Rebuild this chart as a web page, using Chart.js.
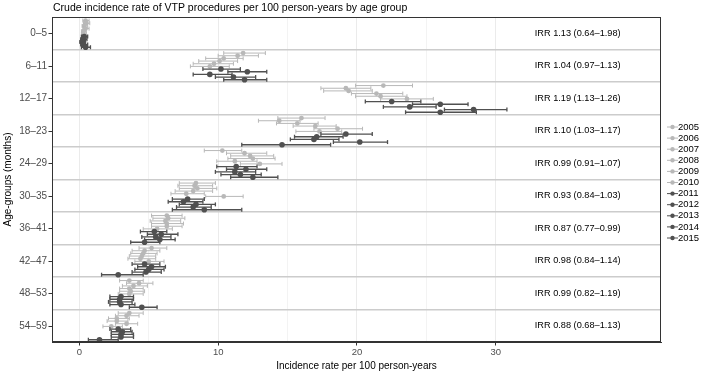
<!DOCTYPE html>
<html>
<head>
<meta charset="utf-8">
<script src="https://cdn.jsdelivr.net/npm/chart.js@4.4.1/dist/chart.umd.min.js"></script>
<style>
  html, body { margin: 0; padding: 0; background: #fff; }
  #wrap { width: 709px; height: 376px; }
</style>
</head>
<body>
<div id="wrap"><canvas id="chart" width="709" height="376"></canvas></div>
<script>
const ageGroups = ["0–5", "6–11", "12–17", "18–23", "24–29", "30–35", "36–41", "42–47", "48–53", "54–59"];
const years = ["2005", "2006", "2007", "2008", "2009", "2010", "2011", "2012", "2013", "2014", "2015"];
const xTicks = [0, 10, 20, 30];
const irrLabels = [
  "IRR 1.13 (0.64–1.98)", "IRR 1.04 (0.97–1.13)", "IRR 1.19 (1.13–1.26)", "IRR 1.10 (1.03–1.17)",
  "IRR 0.99 (0.91–1.07)", "IRR 0.93 (0.84–1.03)", "IRR 0.87 (0.77–0.99)", "IRR 0.98 (0.84–1.14)",
  "IRR 0.99 (0.82–1.19)", "IRR 0.88 (0.68–1.13)"
];

// one row per age group, one column per year (2005..2015)
const rates = [
  [0.45, 0.5, 0.35, 0.45, 0.3, 0.3, 0.35, 0.3, 0.2, 0.3, 0.45],
  [11.8, 11.4, 10.4, 10.1, 9.7, 9.4, 10.2, 12.1, 9.4, 11.1, 11.9],
  [21.9, 19.2, 19.4, 21.4, 21.7, 23.6, 22.5, 26.0, 23.8, 28.4, 26.0],
  [16.0, 14.4, 15.7, 17.0, 18.6, 17.3, 19.2, 17.1, 16.9, 20.2, 14.6],
  [10.3, 11.9, 12.3, 12.5, 11.2, 13.0, 11.3, 12.0, 11.2, 11.6, 12.5],
  [8.4, 8.3, 8.5, 8.2, 7.7, 10.4, 7.8, 7.5, 8.4, 8.2, 9.0],
  [6.3, 6.4, 6.2, 6.3, 6.3, 5.6, 5.4, 5.9, 5.5, 5.8, 4.7],
  [5.2, 4.7, 4.6, 4.5, 4.4, 5.0, 4.7, 5.2, 5.0, 4.8, 2.8],
  [3.6, 4.3, 3.9, 3.6, 3.7, 3.6, 3.0, 2.9, 2.9, 3.0, 4.5],
  [3.6, 3.4, 2.7, 2.7, 3.4, 2.3, 2.8, 3.1, 3.0, 3.0, 1.45]
];
const lowerCI = [
  [0.25, 0.3, 0.2, 0.25, 0.15, 0.15, 0.15, 0.1, 0.05, 0.1, 0.15],
  [10.4, 10.0, 9.1, 8.6, 8.2, 8.0, 8.9, 10.7, 8.2, 9.8, 10.4],
  [19.9, 17.4, 17.6, 19.6, 19.9, 21.7, 20.6, 24.0, 21.9, 26.3, 23.5],
  [14.3, 12.9, 14.2, 15.4, 16.9, 15.6, 17.4, 15.5, 15.2, 18.3, 11.7],
  [9.0, 10.6, 10.9, 10.7, 9.9, 11.6, 9.9, 10.6, 9.8, 10.2, 10.9],
  [7.2, 7.1, 7.2, 6.9, 6.6, 9.1, 6.7, 6.4, 7.2, 7.0, 6.7],
  [5.2, 5.3, 5.1, 5.2, 5.2, 4.6, 4.4, 4.9, 4.5, 4.7, 3.7],
  [4.3, 3.8, 3.7, 3.6, 3.5, 4.0, 3.8, 4.2, 4.0, 3.8, 1.6],
  [2.9, 3.4, 3.1, 2.9, 2.9, 2.8, 2.2, 2.2, 2.1, 2.2, 3.6],
  [2.8, 2.6, 2.1, 2.0, 2.6, 1.7, 2.2, 2.3, 2.3, 2.3, 0.65]
];
const upperCI = [
  [0.7, 0.75, 0.6, 0.7, 0.5, 0.5, 0.6, 0.55, 0.45, 0.6, 0.8],
  [13.4, 12.9, 11.8, 11.4, 11.1, 10.8, 11.6, 13.5, 11.0, 12.7, 13.5],
  [24.0, 21.0, 21.1, 23.3, 23.6, 25.5, 24.6, 28.0, 25.7, 30.8, 28.6],
  [17.7, 15.9, 17.2, 18.5, 20.4, 18.9, 21.1, 19.0, 18.7, 22.2, 18.1],
  [11.7, 13.5, 14.0, 14.1, 12.8, 14.6, 12.8, 13.5, 12.7, 13.1, 14.3],
  [9.8, 9.6, 9.9, 9.6, 9.0, 11.8, 9.0, 8.9, 9.8, 9.5, 11.7],
  [7.4, 7.6, 7.3, 7.5, 7.4, 6.7, 6.3, 7.1, 6.6, 6.9, 5.8],
  [6.3, 5.8, 5.6, 5.5, 5.5, 6.1, 5.8, 6.2, 6.1, 5.9, 4.6],
  [4.6, 5.3, 4.9, 4.6, 4.7, 4.6, 3.9, 3.9, 3.8, 4.0, 5.6],
  [4.6, 4.3, 3.6, 3.5, 4.2, 3.1, 3.7, 3.8, 3.9, 3.9, 2.8]
];

const LIGHT = "#b8b8b8";
const DARK = "#505050";
const FONT = "'Liberation Sans', Arial, sans-serif";

function yearColor(yi) {
  return yi < 6 ? LIGHT : DARK;
}

// vertical position of a year inside its age-group band
function rowY(g, yi) {
  return g + 0.11 + yi * 0.082;
}

function buildDatasets() {
  const out = [];
  years.forEach((year, yi) => {
    const color = yearColor(yi);
    const bars = [];
    const pts = [];
    ageGroups.forEach((_, g) => {
      const y = rowY(g, yi);
      bars.push({ x: lowerCI[g][yi], y }, { x: upperCI[g][yi], y }, { x: null, y: null });
      pts.push({ x: rates[g][yi], y });
    });
    out.push({
      type: "line",
      label: year + " CI",
      data: bars,
      borderColor: color,
      borderWidth: yi < 6 ? 1 : 1.3,
      showLine: true,
      spanGaps: false,
      pointStyle: "line",
      rotation: 90,
      pointRadius: 2,
      pointBorderColor: color,
      pointBorderWidth: yi < 6 ? 1 : 1.3,
      order: 200 - yi * 2,
    });
    out.push({
      type: "scatter",
      label: year,
      data: pts,
      pointStyle: "circle",
      pointRadius: yi < 6 ? 2.4 : 2.8,
      backgroundColor: color,
      borderColor: color,
      borderWidth: 0,
      order: 199 - yi * 2,
    });
  });
  return out;
}

const extrasPlugin = {
  id: "extras",
  afterDraw(chart) {
    const { ctx, chartArea: a, scales } = chart;
    ctx.save();

    // title
    ctx.fillStyle = "#000";
    ctx.font = "10.5px " + FONT;
    ctx.textAlign = "left";
    ctx.textBaseline = "middle";
    ctx.fillText("Crude incidence rate of VTP procedures per 100 person-years by age group", a.left + 1, 8);

    // panel frame
    ctx.strokeStyle = "#333333";
    ctx.lineWidth = 1;
    ctx.strokeRect(a.left + 0.5, a.top + 0.5, a.right - a.left - 1, a.bottom - a.top - 1);

    // y tick marks at band centres
    ageGroups.forEach((_, g) => {
      const py = Math.round(scales.y.getPixelForValue(g + 0.5)) + 0.5;
      ctx.beginPath();
      ctx.moveTo(a.left - 3.5, py);
      ctx.lineTo(a.left, py);
      ctx.stroke();
    });

    // IRR annotations
    ctx.fillStyle = "#000";
    ctx.font = "9.2px " + FONT;
    ctx.textAlign = "center";
    irrLabels.forEach((txt, g) => {
      ctx.fillText(txt, scales.x.getPixelForValue(35.9), scales.y.getPixelForValue(g + 0.5));
    });

    // legend
    ctx.font = "9.5px " + FONT;
    ctx.textAlign = "left";
    years.forEach((year, yi) => {
      const ly = 127 + yi * 11.1;
      const c = yearColor(yi);
      ctx.strokeStyle = c;
      ctx.fillStyle = c;
      ctx.lineWidth = 1;
      ctx.beginPath();
      ctx.moveTo(667, ly);
      ctx.lineTo(678, ly);
      ctx.stroke();
      ctx.beginPath();
      ctx.arc(672.5, ly, 2.2, 0, Math.PI * 2);
      ctx.fill();
      ctx.fillStyle = "#000";
      ctx.fillText(year, 678, ly);
    });

    ctx.restore();
  },
};

new Chart(document.getElementById("chart"), {
  type: "scatter",
  data: { datasets: buildDatasets() },
  plugins: [extrasPlugin],
  options: {
    responsive: false,
    animation: false,
    devicePixelRatio: 1,
    layout: { padding: { top: 17, right: 48, bottom: 0, left: 0 } },
    plugins: {
      legend: { display: false },
      tooltip: { enabled: false },
    },
    scales: {
      x: {
        type: "linear",
        min: -1.97,
        max: 41.9,
        afterBuildTicks(scale) {
          scale.ticks = [0, 5, 10, 15, 20, 25, 30].map((v) => ({ value: v }));
        },
        afterFit(scale) {
          scale.height = 34;
        },
        ticks: {
          callback: (v) => (xTicks.includes(v) ? String(v) : ""),
          color: "#4d4d4d",
          font: { family: FONT, size: 9.5 },
          padding: 1,
          maxRotation: 0,
        },
        grid: {
          color: "#ebebeb",
          lineWidth: (ctx) => (ctx.tick && xTicks.includes(ctx.tick.value) ? 1 : 0.6),
          tickColor: (ctx) => (ctx.tick && xTicks.includes(ctx.tick.value) ? "#333333" : "rgba(0,0,0,0)"),
          tickLength: 3.5,
        },
        border: { display: true, color: "#333333" },
        title: {
          display: true,
          text: "Incidence rate per 100 person-years",
          color: "#000",
          font: { family: FONT, size: 10 },
          padding: { top: 2, bottom: 4 },
        },
      },
      y: {
        type: "linear",
        min: 0,
        max: 10,
        reverse: true,
        afterBuildTicks(scale) {
          scale.ticks = [0, 1, 2, 3, 4, 5, 6, 7, 8, 9, 10].map((v) => ({ value: v }));
        },
        afterFit(scale) {
          scale.width = 52;
        },
        ticks: {
          callback: (v, i) => (i < ageGroups.length ? ageGroups[i] : ""),
          labelOffset: 16.25,
          color: "#4d4d4d",
          font: { family: FONT, size: 10 },
          padding: 5,
        },
        grid: {
          drawTicks: false,
          color: (ctx) => (ctx.index === 0 || ctx.index === 10 ? "rgba(0,0,0,0)" : "#cccccc"),
          lineWidth: 1.5,
        },
        border: { display: true, color: "#333333" },
        title: {
          display: true,
          text: "Age-groups (months)",
          color: "#000",
          font: { family: FONT, size: 10 },
          padding: { top: 2, bottom: 2 },
        },
      },
    },
  },
});
</script>
</body>
</html>
